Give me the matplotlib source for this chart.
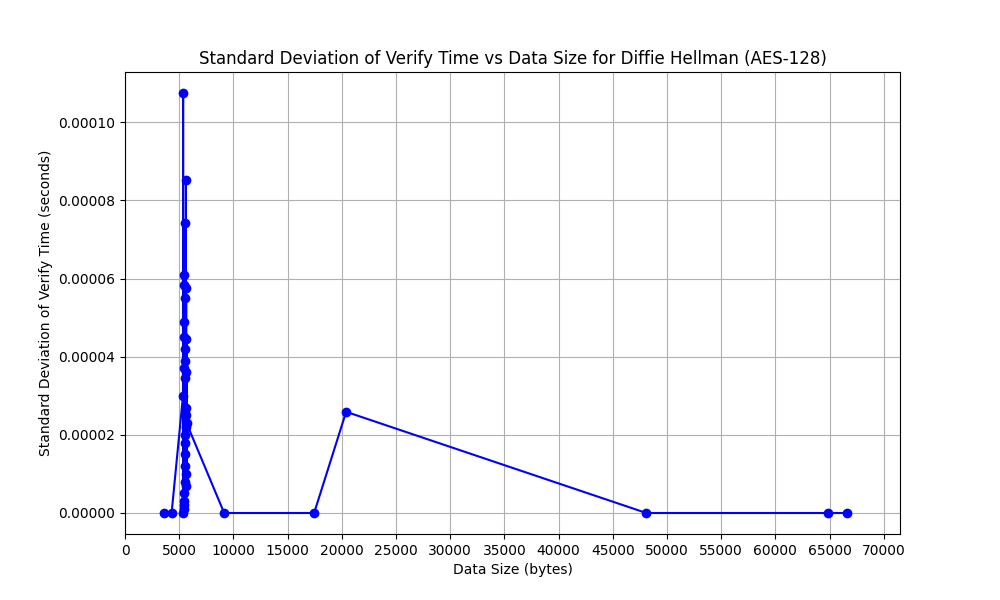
import matplotlib
matplotlib.use("Agg")
import matplotlib.pyplot as plt

# data (sorted by size)
data_size = [3600, 4300, 5350, 5360, 5380, 5400, 5410, 5420, 5430, 5440, 5450,
             5460, 5470, 5480, 5490, 5500, 5510, 5520, 5530, 5540, 5550, 5560,
             5570, 5580, 5590, 5600, 5610, 5620, 5630, 5640, 5650, 5660, 5670,
             5680, 9150, 17450, 20400, 48100, 64900, 66600]
std_verify = [0.0, 0.0, 0.0000300, 0.0001075, 0.0, 0.0000490, 0.0000010, 0.0000370,
              0.0000020, 0.0000450, 0.0000030, 0.0000610, 0.0000050, 0.0000583, 0.0000080,
              0.0000743, 0.0000120, 0.0000550, 0.0000150, 0.0000420, 0.0000180, 0.0000345,
              0.0000200, 0.0000390, 0.0000220, 0.0000360, 0.0000250, 0.0000853, 0.0000270,
              0.0000575, 0.0000100, 0.0000445, 0.0000070, 0.0000230, 0.0, 0.0,
              0.0000259, 0.0, 0.0, 0.0]

fig, ax = plt.subplots(figsize=(10, 6), dpi=100)
ax.plot(data_size, std_verify, marker="o", color="blue", linestyle="-")
ax.set_xlabel("Data Size (bytes)")
ax.set_ylabel("Standard Deviation of Verify Time (seconds)")
ax.set_title("Standard Deviation of Verify Time vs Data Size for Diffie Hellman (AES-128)")
ax.set_xticks(range(0, 70001, 5000))
ax.set_xlim(0, 71500)
ax.grid(True)
plt.savefig("out.png")
